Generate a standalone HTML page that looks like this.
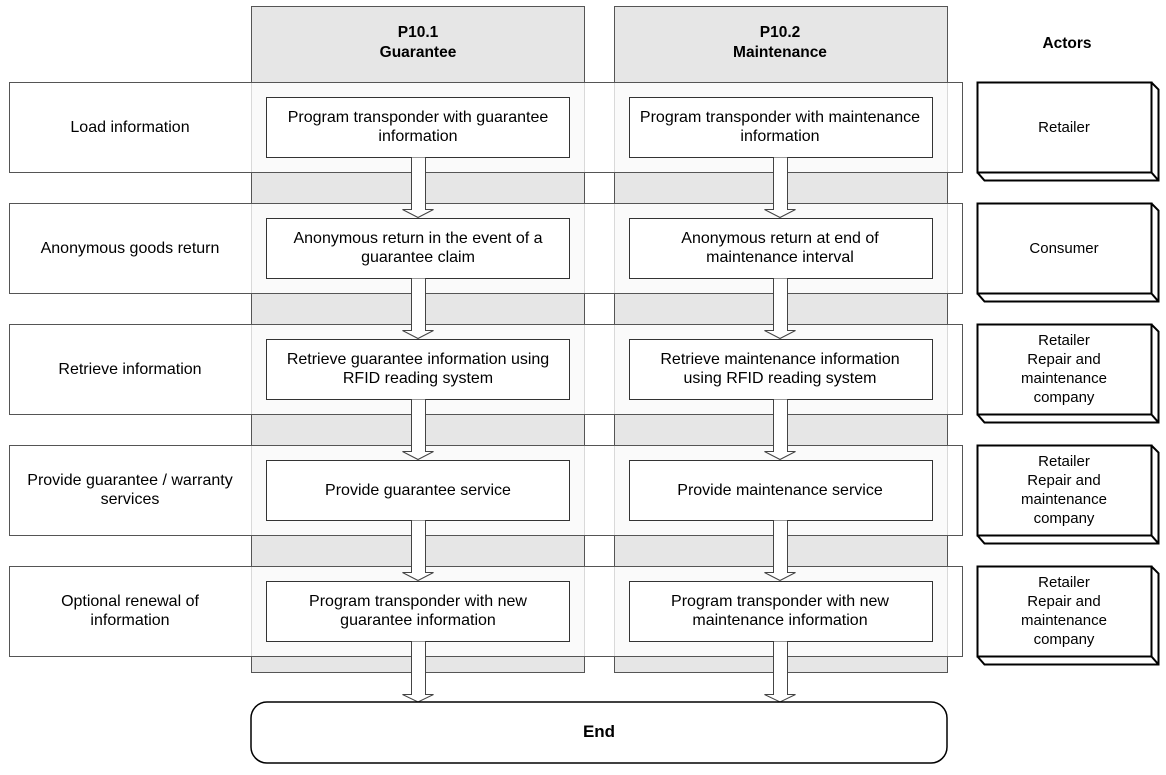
<!DOCTYPE html>
<html><head><meta charset="utf-8"><style>
html,body{margin:0;padding:0;background:#fff;}
svg{display:block;font-family:"Liberation Sans",Arial,sans-serif;}
</style></head><body>
<svg width="1166" height="775" viewBox="0 0 1166 775" xmlns="http://www.w3.org/2000/svg">
<!-- columns -->
<rect x="251.5" y="6.5" width="333" height="666" fill="#e6e6e6" stroke="#555" stroke-width="1"/>
<rect x="614.5" y="6.5" width="333" height="666" fill="#e6e6e6" stroke="#555" stroke-width="1"/>
<text x="418" y="37" text-anchor="middle" font-size="15.5" font-weight="bold">P10.1</text>
<text x="418" y="57" text-anchor="middle" font-size="15.5" font-weight="bold">Guarantee</text>
<text x="780" y="37" text-anchor="middle" font-size="15.5" font-weight="bold">P10.2</text>
<text x="780" y="57" text-anchor="middle" font-size="15.5" font-weight="bold">Maintenance</text>
<text x="1067" y="48" text-anchor="middle" font-size="15.5" font-weight="bold">Actors</text>

<g font-size="16" text-anchor="middle" fill="#000">
<g fill="#fff" fill-opacity="0.78" stroke="#555" stroke-width="1">
<rect x="9.5" y="82.5" width="953" height="90"/>
<rect x="9.5" y="203.5" width="953" height="90"/>
<rect x="9.5" y="324.5" width="953" height="90"/>
<rect x="9.5" y="445.5" width="953" height="90"/>
<rect x="9.5" y="566.5" width="953" height="90"/>
</g>
<g fill="#fff" stroke="#333" stroke-width="1">
<rect x="266.5" y="97.5" width="303" height="60"/><rect x="629.5" y="97.5" width="303" height="60"/>
<rect x="266.5" y="218.5" width="303" height="60"/><rect x="629.5" y="218.5" width="303" height="60"/>
<rect x="266.5" y="339.5" width="303" height="60"/><rect x="629.5" y="339.5" width="303" height="60"/>
<rect x="266.5" y="460.5" width="303" height="60"/><rect x="629.5" y="460.5" width="303" height="60"/>
<rect x="266.5" y="581.5" width="303" height="60"/><rect x="629.5" y="581.5" width="303" height="60"/>
</g>
<g fill="#fff" stroke="#444" stroke-width="1">
<path d="M411.5,157.5 V209.5 H402.5 L418,217.5 L433.5,209.5 H425.5 V157.5"/>
<path d="M773.5,157.5 V209.5 H764.5 L780,217.5 L795.5,209.5 H787.5 V157.5"/>
<path d="M411.5,278.5 V330.5 H402.5 L418,338.5 L433.5,330.5 H425.5 V278.5"/>
<path d="M773.5,278.5 V330.5 H764.5 L780,338.5 L795.5,330.5 H787.5 V278.5"/>
<path d="M411.5,399.5 V451.5 H402.5 L418,459.5 L433.5,451.5 H425.5 V399.5"/>
<path d="M773.5,399.5 V451.5 H764.5 L780,459.5 L795.5,451.5 H787.5 V399.5"/>
<path d="M411.5,520.5 V572.5 H402.5 L418,580.5 L433.5,572.5 H425.5 V520.5"/>
<path d="M773.5,520.5 V572.5 H764.5 L780,580.5 L795.5,572.5 H787.5 V520.5"/>
<path d="M411.5,641.5 V694.5 H402.5 L418,702 L433.5,694.5 H425.5 V641.5"/>
<path d="M773.5,641.5 V694.5 H764.5 L780,702 L795.5,694.5 H787.5 V641.5"/>
</g>
<text x="130" y="132">Load information</text>
<text x="130" y="253">Anonymous goods return</text>
<text x="130" y="374">Retrieve information</text>
<text x="130" y="485">Provide guarantee / warranty</text>
<text x="130" y="504">services</text>
<text x="130" y="606">Optional renewal of</text>
<text x="130" y="625">information</text>
<text x="418" y="122">Program transponder with guarantee</text>
<text x="418" y="141">information</text>
<text x="780" y="122">Program transponder with maintenance</text>
<text x="780" y="141">information</text>
<text x="418" y="243">Anonymous return in the event of a</text>
<text x="418" y="262">guarantee claim</text>
<text x="780" y="243">Anonymous return at end of</text>
<text x="780" y="262">maintenance interval</text>
<text x="418" y="364">Retrieve guarantee information using</text>
<text x="418" y="383">RFID reading system</text>
<text x="780" y="364">Retrieve maintenance information</text>
<text x="780" y="383">using RFID reading system</text>
<text x="418" y="495">Provide guarantee service</text>
<text x="780" y="495">Provide maintenance service</text>
<text x="418" y="606">Program transponder with new</text>
<text x="418" y="625">guarantee information</text>
<text x="780" y="606">Program transponder with new</text>
<text x="780" y="625">maintenance information</text>
<rect x="251" y="702" width="696" height="61" rx="16" fill="#fff" stroke="#000" stroke-width="1.5"/>
<text x="599" y="737" font-size="17" font-weight="bold">End</text>
<g fill="#fff" stroke="#000" stroke-width="2">
<path d="M977.5,82.5 H1151.5 L1158.5,89.5 V180.5 H984.5 L977.5,172.5 Z"/><rect x="977.5" y="82.5" width="174" height="90"/><path d="M1151.5,172.5 L1158.5,180.5"/>
<path d="M977.5,203.5 H1151.5 L1158.5,210.5 V301.5 H984.5 L977.5,293.5 Z"/><rect x="977.5" y="203.5" width="174" height="90"/><path d="M1151.5,293.5 L1158.5,301.5"/>
<path d="M977.5,324.5 H1151.5 L1158.5,331.5 V422.5 H984.5 L977.5,414.5 Z"/><rect x="977.5" y="324.5" width="174" height="90"/><path d="M1151.5,414.5 L1158.5,422.5"/>
<path d="M977.5,445.5 H1151.5 L1158.5,452.5 V543.5 H984.5 L977.5,535.5 Z"/><rect x="977.5" y="445.5" width="174" height="90"/><path d="M1151.5,535.5 L1158.5,543.5"/>
<path d="M977.5,566.5 H1151.5 L1158.5,573.5 V664.5 H984.5 L977.5,656.5 Z"/><rect x="977.5" y="566.5" width="174" height="90"/><path d="M1151.5,656.5 L1158.5,664.5"/>
</g>
<g font-size="15">
<text x="1064" y="132">Retailer</text>
<text x="1064" y="253">Consumer</text>
<text x="1064" y="345">Retailer</text><text x="1064" y="364">Repair and</text><text x="1064" y="383">maintenance</text><text x="1064" y="402">company</text>
<text x="1064" y="466">Retailer</text><text x="1064" y="485">Repair and</text><text x="1064" y="504">maintenance</text><text x="1064" y="523">company</text>
<text x="1064" y="587">Retailer</text><text x="1064" y="606">Repair and</text><text x="1064" y="625">maintenance</text><text x="1064" y="644">company</text>
</g>
</g>
</svg>
</body></html>
